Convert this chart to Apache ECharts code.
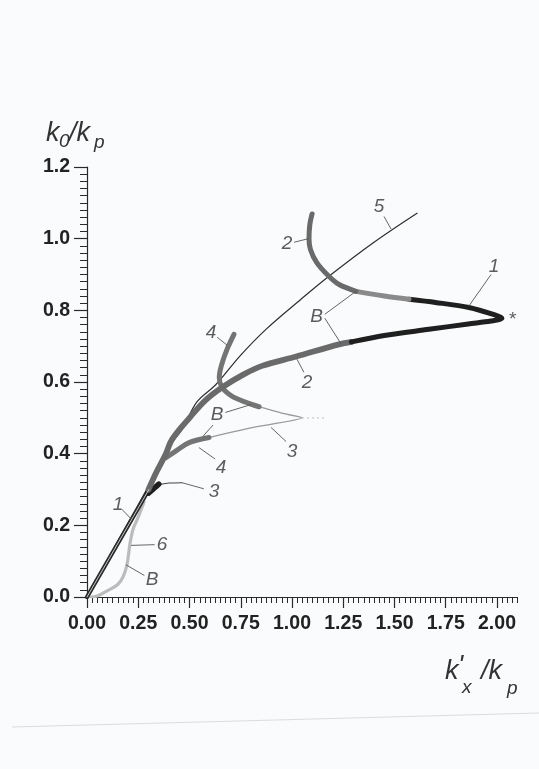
<!DOCTYPE html>
<html><head><meta charset="utf-8">
<script src="https://cdn.jsdelivr.net/npm/echarts@6/dist/echarts.min.js"></script>
<style>html,body{margin:0;padding:0;background:#f9fbfc}#c{width:539px;height:769px}</style>
</head><body><div id="c"></div><script>
// ---- tick labels ----
const xTickLabels = ['0.00','0.25','0.50','0.75','1.00','1.25','1.50','1.75','2.00'];
const yTickLabels = ['0.0','0.2','0.4','0.6','0.8','1.0','1.2'];

// ---- curves (x = k'x/kp, y = k0/kp) ----
const curve1Line = [[0,0],[0.302,0.300]];
const curve5 = [[0,0],[0.15,0.155],[0.30,0.31],[0.337,0.355],[0.40,0.42],[0.463,0.467],[0.537,0.545],[0.629,0.593],[0.75,0.675],[0.873,0.747],[1.044,0.831],[1.18,0.895],[1.40,0.99],[1.61,1.071]];
const curve2Lower = [[0.30,0.30],[0.34,0.35],[0.385,0.40],[0.415,0.44],[0.50,0.50],[0.58,0.55],[0.659,0.585],[0.76,0.62],[0.854,0.645],[1.02,0.671],[1.229,0.705],[1.29,0.712]];
const curve2Tip = [[1.29,0.712],[1.45,0.730],[1.668,0.747],[1.86,0.762],[1.97,0.770],[2.024,0.778],[1.99,0.787],[1.863,0.808],[1.70,0.822],[1.571,0.831]];
const curve2UpperLight = [[1.571,0.831],[1.45,0.840],[1.312,0.853]];
const curve2Upper = [[1.312,0.853],[1.23,0.872],[1.18,0.895],[1.12,0.934],[1.09,0.97],[1.083,0.999],[1.087,1.04],[1.098,1.069]];
const curve4Upper = [[0.717,0.733],[0.683,0.691],[0.655,0.645],[0.645,0.612],[0.659,0.585],[0.70,0.563],[0.741,0.551],[0.80,0.538],[0.839,0.531]];
const curve4Lower = [[0.385,0.389],[0.44,0.41],[0.498,0.431],[0.595,0.445]];
const curve3Loop = [[0.595,0.445],[0.80,0.472],[1.049,0.500],[0.95,0.513],[0.839,0.531]];
const curve3Faint = [[1.049,0.500],[1.17,0.500]];
const curve3Blob = [[0.30,0.290],[0.33,0.305],[0.35,0.315]];
const curve3Low = [[0.35,0.313],[0.40,0.318],[0.463,0.319]];
const curve6 = [[0,0],[0.05,0.003],[0.107,0.02],[0.15,0.035],[0.175,0.055],[0.195,0.09],[0.21,0.15],[0.225,0.19],[0.244,0.215],[0.265,0.245],[0.278,0.265]];

// ---- annotation labels and leaders (data coords) ----
const labelTexts = ['1','6','B','3','4','3','B','4','2','B','2','5','1','*'];
const labelPos = [[0.151,0.257],[0.366,0.146],[0.317,0.048],[0.62,0.295],[0.654,0.361],[1.0,0.405],[0.634,0.509],[0.605,0.738],[1.073,0.599],[1.12,0.783],[0.976,0.985],[1.424,1.088],[1.985,0.923],[2.073,0.775]];
const leaders = [
  [[0.17,0.245],[0.215,0.218]],
  [[0.33,0.146],[0.215,0.144]],
  [[0.28,0.060],[0.19,0.090]],
  [[0.463,0.319],[0.57,0.302]],
  [[0.625,0.385],[0.546,0.417]],
  [[0.971,0.434],[0.898,0.473]],
  [[0.675,0.515],[0.80,0.537]],
  [[0.615,0.480],[0.565,0.448]],
  [[0.635,0.725],[0.683,0.703]],
  [[1.058,0.627],[1.024,0.664]],
  [[1.16,0.789],[1.312,0.853]],
  [[1.16,0.778],[1.239,0.707]],
  [[1.01,0.990],[1.08,1.000]],
  [[1.449,1.062],[1.483,1.027]],
  [[1.971,0.900],[1.863,0.812]]
];

function line(data, color, width, opts) {
  return Object.assign({type:'line', data:data, smooth:0.35, symbol:'none', silent:true,
    lineStyle:{color:color, width:width, cap:'round', join:'round'}, z:2}, opts||{});
}

const xMajor = xTickLabels.map(Number);
const series = [
  line(curve6, '#bcbcbc', 3.2),
  line(curve1Line, '#2a2a2a', 4.2, {smooth:false}),
  line(curve1Line, '#c8c8c8', 1, {smooth:false, z:3}),
  line(curve5, '#2e2e2e', 1.2),
  line(curve3Loop, '#9a9a9a', 1.3, {smooth:0.2}),
  line(curve3Faint, '#c9c9c9', 1.2, {smooth:false, lineStyle:{color:'#c9c9c9', width:1.2, type:[2,3]}}),
  line(curve3Low, '#444', 1.1, {smooth:0.2}),
  line(curve3Blob, '#1e1e1e', 5.5),
  line(curve4Lower, '#747474', 5),
  line(curve4Upper, '#747474', 5),
  line(curve2Lower, '#6a6a6a', 5.8),
  line(curve2Tip, '#1f1f1f', 5, {smooth:0.3}),
  line(curve2UpperLight, '#8a8a8a', 5),
  line(curve2Upper, '#6a6a6a', 5),
  {type:'lines', coordinateSystem:'cartesian2d', silent:true, z:4,
   lineStyle:{color:'#555', width:0.9, opacity:1},
   data: leaders.map(c => ({coords:c}))},
  {type:'scatter', silent:true, symbolSize:1, itemStyle:{color:'rgba(0,0,0,0)'}, z:5,
   data: labelPos.map((p,i) => ({value:p, name:labelTexts[i]})),
   label:{show:true, position:'inside', formatter: p => p.name,
     fontFamily:'Liberation Sans, Arial, sans-serif', fontStyle:'italic', fontSize:19, color:'#333'}}
];

const chart = echarts.init(document.getElementById('c'), null, {renderer:'canvas'});
const gridLeft = 87, gridTop = 167, gridBottom = 172;
chart.setOption({
  backgroundColor:'#f9fbfc',
  animation:false,
  grid:{left:gridLeft, right:21.5, top:gridTop, bottom:gridBottom},
  xAxis:[{
    type:'value', min:0, max:2.1, interval:0.25,
    axisLine:{show:true, onZero:false, lineStyle:{color:'#2a2a2a', width:1.2}},
    axisTick:{show:true, length:11, customValues:xMajor, lineStyle:{color:'#2a2a2a', width:1.2}},
    axisLabel:{customValues:xMajor, margin:17, formatter:v=>v.toFixed(2),
      fontFamily:'Liberation Sans, Arial, sans-serif', fontWeight:'bold', fontSize:19.5, color:'#222'},
    splitLine:{show:false}
  },{
    type:'value', min:0, max:2.1, interval:0.025, position:'bottom',
    axisLine:{show:false}, axisLabel:{show:false}, splitLine:{show:false},
    axisTick:{show:true, length:6, lineStyle:{color:'#2a2a2a', width:1}}
  }],
  yAxis:[{
    type:'value', min:0, max:1.2, interval:0.2,
    axisLine:{show:true, onZero:false, lineStyle:{color:'#2a2a2a', width:1.2}},
    axisTick:{show:true, length:13, lineStyle:{color:'#2a2a2a', width:1.2}},
    minorTick:{show:true, splitNumber:10, length:7, lineStyle:{color:'#2a2a2a', width:1}},
    axisLabel:{margin:17, formatter:v=>v.toFixed(1),
      fontFamily:'Liberation Sans, Arial, sans-serif', fontWeight:'bold', fontSize:19.5, color:'#222'},
    splitLine:{show:false}, minorSplitLine:{show:false}
  }],
  series: series
});

// axis titles and page details
const it = 'italic 27px "Liberation Sans", Arial, sans-serif';
const its = 'italic 19px "Liberation Sans", Arial, sans-serif';
function txt(t, x, y, font) {
  return {type:'text', silent:true, style:{text:t, x:x, y:y, font:font, fill:'#333', textVerticalAlign:'middle'}};
}
chart.setOption({graphic:[
  txt('k', 46, 133, it), txt('0', 59, 142, its), txt('/k', 69, 133, it), txt('p', 94, 143, its),
  txt('k', 445, 671, it), txt("'", 458, 666, it), txt('x', 462, 688, its), txt('/k', 481, 671, it), txt('p', 507, 689, its),
  {type:'line', silent:true, shape:{x1:12, y1:727, x2:539, y2:713}, style:{stroke:'#d9dde0', lineWidth:1}}
]});
</script></body></html>
